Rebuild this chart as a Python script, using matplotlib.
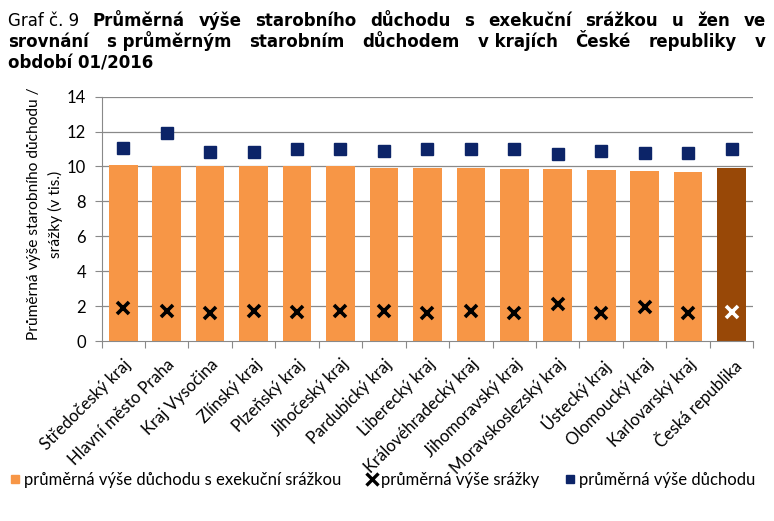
import numpy as np
import matplotlib
matplotlib.use("Agg")
import matplotlib.pyplot as plt
from matplotlib.lines import Line2D

# data (v tis. Kč)
kraje = ["Středočeský kraj", "Hlavní město Praha", "Kraj Vysočina", "Zlínský kraj",
         "Plzeňský kraj", "Jihočeský kraj", "Pardubický kraj", "Liberecký kraj",
         "Královéhradecký kraj", "Jihomoravský kraj", "Moravskoslezský kraj",
         "Ústecký kraj", "Olomoucký kraj", "Karlovarský kraj", "Česká republika"]
duchod_srazka = [10.09, 10.03, 10.03, 10.03, 10.03, 10.00, 9.93, 9.93,
                 9.93, 9.86, 9.86, 9.80, 9.74, 9.68, 9.90]
srazka = [1.87, 1.74, 1.59, 1.74, 1.64, 1.72, 1.72, 1.59,
          1.72, 1.59, 2.10, 1.62, 1.97, 1.59, 1.68]
duchod = [11.08, 11.94, 10.85, 10.85, 11.02, 11.02, 10.89, 11.02,
          11.03, 10.98, 10.72, 10.91, 10.79, 10.79, 11.02]

ORANGE = "#F79646"
BROWN = "#984807"
NAVY = "#0C2468"
GRID = "#898989"

W, H = 774, 521
fig = plt.figure(figsize=(W / 100, H / 100), dpi=100)
ax = fig.add_axes([101.5 / W, 1 - 341 / H, (753.3 - 101.5) / W, (341 - 96.7) / H])

x = np.arange(len(kraje))
colors = [ORANGE] * (len(kraje) - 1) + [BROWN]
ax.bar(x, duchod_srazka, width=0.66, color=colors, zorder=2)
ax.plot(x, duchod, ls="none", marker="s", ms=8.5, color=NAVY, zorder=3)
ax.plot(x[:-1], srazka[:-1], ls="none", marker="x", ms=9, mew=2.6, color="black", zorder=3)
ax.plot(x[-1:], srazka[-1:], ls="none", marker="x", ms=9, mew=2.6, color="white", zorder=3)

ax.set_xlim(-0.5, len(kraje) - 0.5)
ax.set_ylim(0, 14)
ax.set_yticks(np.arange(0, 15, 2))
for yv in range(2, 15, 2):
    ax.axhline(yv, color=GRID, lw=0.9, zorder=1)

for s in ["top", "right"]:
    ax.spines[s].set_visible(False)
ax.spines["left"].set_color(GRID)
ax.spines["bottom"].set_color(GRID)

ax.set_xticks(np.arange(-0.5, len(kraje), 1.0))
ax.set_xticklabels([])
ax.set_xticks(x, minor=True)
ax.set_xticklabels(kraje, minor=True, rotation=45, ha="right", rotation_mode="anchor",
                   fontsize=12, family="Lato")
ax.tick_params(axis="x", which="major", length=5, color=GRID, direction="out")
ax.tick_params(axis="x", which="minor", length=0, pad=11)
ax.tick_params(axis="y", length=5, color=GRID, direction="out", pad=6, labelsize=12)
for lab in ax.get_yticklabels():
    lab.set_family("Lato")

fig.text(45 / W, 1 - 214 / H, "Průměrná výše starobního důchodu /\nsrážky (v tis.)",
         rotation=90, ha="center", va="center", multialignment="center",
         fontsize=11.2, family="Lato", linespacing=1.55)

# legend
handles = [Line2D([], [], ls="none", marker="s", ms=6, color=ORANGE),
           Line2D([], [], ls="none", marker="x", ms=8, mew=2.4, color="black"),
           Line2D([], [], ls="none", marker="s", ms=6, color=NAVY)]
labels = ["průměrná výše důchodu s exekuční srážkou", "průměrná výše srážky",
          "průměrná výše důchodu"]
fig.legend(handles, labels, loc="center left", bbox_to_anchor=(3 / W, 1 - 480 / H),
           ncol=3, frameon=False, handlelength=0.6, handletextpad=0.25,
           columnspacing=1.55, borderaxespad=0, prop={"family": "Lato", "size": 12})

# title, justified like in the source document
renderer = fig.canvas.get_renderer()
x0, x1 = 8, 766
lines = [
    ([("Graf č. 9", "normal")] + [(w, "bold") for w in
     "Průměrná výše starobního důchodu s exekuční srážkou u žen ve".split()], True, 26),
    ([(w, "bold") for w in ["srovnání", "s průměrným", "starobním", "důchodem",
                            "v krajích", "České", "republiky", "v"]], True, 47),
    ([("období 01/2016", "bold")], False, 68),
]
for words, justify, yb in lines:
    texts = [fig.text(0, 1 - yb / H, w, fontsize=12, weight=wt, family="DejaVu Sans",
                      va="baseline", ha="left") for w, wt in words]
    widths = [t.get_window_extent(renderer).width for t in texts]
    gap = (x1 - x0 - sum(widths)) / max(len(texts) - 1, 1) if justify else 0
    pos = x0
    for t, wd in zip(texts, widths):
        t.set_x(pos / W)
        pos += wd + gap

fig.savefig("out.png", dpi=100)
